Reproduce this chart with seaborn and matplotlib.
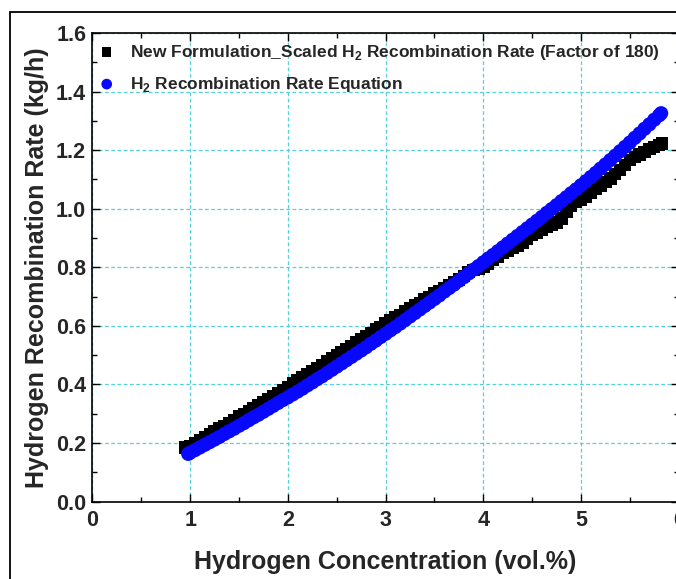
import numpy as np
import pandas as pd
import matplotlib
matplotlib.use("Agg")
import matplotlib.pyplot as plt
import seaborn as sns
from matplotlib.ticker import MultipleLocator
from matplotlib.patches import Rectangle

# ---- data ----
black_x = [0.95, 1.00, 1.05, 1.10, 1.15, 1.20, 1.25, 1.30, 1.35, 1.40, 1.45, 1.50,
           1.55, 1.60, 1.65, 1.70, 1.75, 1.80, 1.85, 1.90, 1.95, 2.00, 2.05, 2.10,
           2.15, 2.20, 2.25, 2.30, 2.35, 2.40, 2.45, 2.50, 2.55, 2.60, 2.65, 2.70,
           2.75, 2.80, 2.85, 2.90, 2.95, 3.00, 3.05, 3.10, 3.15, 3.20, 3.25, 3.30,
           3.35, 3.40, 3.45, 3.50, 3.55, 3.60, 3.65, 3.70, 3.75, 3.80, 3.85, 3.90,
           3.95, 4.00, 4.05, 4.10, 4.15, 4.20, 4.25, 4.30, 4.35, 4.40, 4.45, 4.50,
           4.55, 4.60, 4.65, 4.70, 4.75, 4.80, 4.85, 4.90, 4.95, 5.00, 5.05, 5.10,
           5.15, 5.20, 5.25, 5.30, 5.35, 5.40, 5.45, 5.50, 5.55, 5.60, 5.65, 5.70,
           5.75, 5.80, 5.83]
black_y = [0.185, 0.190, 0.199, 0.210, 0.219, 0.229, 0.239, 0.249, 0.258, 0.269, 0.278, 0.290,
           0.298, 0.309, 0.319, 0.329, 0.340, 0.350, 0.361, 0.371, 0.381, 0.392, 0.403, 0.413,
           0.424, 0.435, 0.445, 0.457, 0.466, 0.478, 0.488, 0.500, 0.509, 0.521, 0.531, 0.543,
           0.553, 0.565, 0.575, 0.587, 0.597, 0.608, 0.618, 0.629, 0.638, 0.649, 0.659, 0.670,
           0.679, 0.690, 0.699, 0.711, 0.719, 0.729, 0.738, 0.749, 0.758, 0.770, 0.783, 0.790,
           0.795, 0.803, 0.812, 0.824, 0.836, 0.848, 0.857, 0.866, 0.875, 0.884, 0.897, 0.910,
           0.919, 0.927, 0.937, 0.944, 0.953, 0.966, 0.988, 1.011, 1.024, 1.032, 1.041, 1.054,
           1.068, 1.080, 1.092, 1.103, 1.118, 1.133, 1.150, 1.166, 1.176, 1.185, 1.194, 1.203,
           1.211, 1.218, 1.222]

blue_x = [0.98, 1.00, 1.05, 1.10, 1.15, 1.20, 1.25, 1.30, 1.35, 1.40, 1.45, 1.50,
          1.55, 1.60, 1.65, 1.70, 1.75, 1.80, 1.85, 1.90, 1.95, 2.00, 2.05, 2.10,
          2.15, 2.20, 2.25, 2.30, 2.35, 2.40, 2.45, 2.50, 2.55, 2.60, 2.65, 2.70,
          2.75, 2.80, 2.85, 2.90, 2.95, 3.00, 3.05, 3.10, 3.15, 3.20, 3.25, 3.30,
          3.35, 3.40, 3.45, 3.50, 3.55, 3.60, 3.65, 3.70, 3.75, 3.80, 3.85, 3.90,
          3.95, 4.00, 4.05, 4.10, 4.15, 4.20, 4.25, 4.30, 4.35, 4.40, 4.45, 4.50,
          4.55, 4.60, 4.65, 4.70, 4.75, 4.80, 4.85, 4.90, 4.95, 5.00, 5.05, 5.10,
          5.15, 5.20, 5.25, 5.30, 5.35, 5.40, 5.45, 5.50, 5.55, 5.60, 5.65, 5.70,
          5.75, 5.80, 5.82]
blue_y = [0.163, 0.167, 0.176, 0.185, 0.194, 0.203, 0.212, 0.221, 0.231, 0.240, 0.249, 0.259,
          0.268, 0.278, 0.288, 0.297, 0.307, 0.317, 0.327, 0.337, 0.347, 0.356, 0.366, 0.376,
          0.386, 0.397, 0.407, 0.418, 0.428, 0.439, 0.450, 0.461, 0.472, 0.483, 0.494, 0.505,
          0.516, 0.527, 0.539, 0.550, 0.562, 0.573, 0.585, 0.596, 0.608, 0.620, 0.632, 0.644,
          0.656, 0.668, 0.680, 0.692, 0.704, 0.717, 0.729, 0.741, 0.754, 0.766, 0.779, 0.792,
          0.804, 0.817, 0.830, 0.842, 0.855, 0.868, 0.881, 0.894, 0.907, 0.920, 0.933, 0.946,
          0.959, 0.972, 0.986, 0.999, 1.012, 1.026, 1.039, 1.053, 1.066, 1.080, 1.094, 1.108,
          1.122, 1.137, 1.151, 1.166, 1.181, 1.196, 1.211, 1.226, 1.242, 1.257, 1.273, 1.288,
          1.304, 1.319, 1.326]

label_black = r"New Formulation_Scaled H$_\mathbf{2}$ Recombination Rate (Factor of 180)"
label_blue = r"H$_\mathbf{2}$ Recombination Rate Equation"
xlabel = "Hydrogen Concentration (vol.%)"
ylabel = "Hydrogen Recombination Rate (kg/h)"

sns.set_style("white")
plt.rcParams["font.family"] = ["Liberation Sans", "DejaVu Sans"]
plt.rcParams["mathtext.fontset"] = "custom"
plt.rcParams["mathtext.rm"] = "Liberation Sans"
plt.rcParams["mathtext.bf"] = "Liberation Sans:bold"

df_black = pd.DataFrame({"x": black_x, "y": black_y})
df_blue = pd.DataFrame({"x": blue_x, "y": blue_y})

fig = plt.figure(figsize=(6.76, 5.79), dpi=100)
ax = fig.add_axes([0.1368, 0.1337, 0.8672, 0.8093])

sns.scatterplot(data=df_black, x="x", y="y", marker="s", s=80, color="black",
                edgecolor="none", linewidth=0, ax=ax, label=label_black, zorder=3)
sns.scatterplot(data=df_blue, x="x", y="y", marker="o", s=105, color="#0808ff",
                edgecolor="none", linewidth=0, ax=ax, label=label_blue, zorder=4)

ax.set_xlim(0, 6)
ax.set_ylim(0, 1.6)
ax.xaxis.set_major_locator(MultipleLocator(1))
ax.xaxis.set_minor_locator(MultipleLocator(0.5))
ax.yaxis.set_major_locator(MultipleLocator(0.2))
ax.yaxis.set_minor_locator(MultipleLocator(0.1))
ax.yaxis.set_major_formatter(matplotlib.ticker.FormatStrFormatter("%.1f"))

ax.grid(True, which="major", color="#55d0dc", linestyle=(0, (3, 2)), linewidth=0.9)
ax.tick_params(which="both", direction="in", top=True, right=True, bottom=True, left=True,
               color="black", width=1.0)
ax.tick_params(which="major", length=6, labelsize=15.5)
ax.tick_params(axis="y", which="major", pad=4.5)
ax.tick_params(axis="x", which="major", pad=6)
ax.tick_params(which="minor", length=3.5)
for lab in ax.get_xticklabels() + ax.get_yticklabels():
    lab.set_fontweight("bold")
for sp in ax.spines.values():
    sp.set_color("black")
    sp.set_linewidth(1.2)

ax.set_xlabel(xlabel, fontsize=18, fontweight="bold", labelpad=14)
ax.set_ylabel(ylabel, fontsize=18, fontweight="bold", labelpad=5)

leg = ax.legend(loc="upper left", frameon=False, prop={"weight": "bold", "size": 12.5},
                handletextpad=0.95, borderaxespad=0.42, borderpad=0.0, labelspacing=0.75,
                handlelength=0.8, markerscale=0.75, bbox_to_anchor=(0.0, 0.995))

fig.patches.append(Rectangle((10 / 676, -0.05), 1.2, 1 - 12 / 579 + 0.05,
                             transform=fig.transFigure, fill=False,
                             edgecolor="black", linewidth=1.3))

fig.savefig("out.png", dpi=100)
